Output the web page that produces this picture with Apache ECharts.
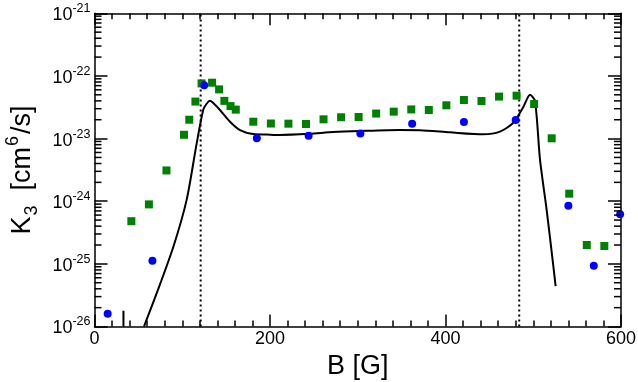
<!DOCTYPE html>
<html>
<head>
<meta charset="utf-8">
<script src="https://cdn.jsdelivr.net/npm/echarts@6/dist/echarts.min.js"></script>
<style>
html,body{margin:0;padding:0;background:#fff;}
#c{width:638px;height:382px;}
</style>
</head>
<body>
<div id="c"></div>
<script>
// ---- data ----
const greenB = [42, 62, 82, 102, 108, 115, 122, 134, 142, 148, 155, 161, 181, 201, 221, 241, 261, 281, 301, 321, 341, 361, 381, 401, 421, 441, 461, 481, 501, 521, 541, 561, 581];
const greenK = [4.8e-25, 8.9e-25, 3.1e-24, 1.15e-23, 2.0e-23, 3.9e-23, 7.6e-23, 7.8e-23, 6.1e-23, 4.0e-23, 3.3e-23, 2.9e-23, 1.86e-23, 1.74e-23, 1.73e-23, 1.71e-23, 2.03e-23, 2.19e-23, 2.21e-23, 2.51e-23, 2.69e-23, 2.92e-23, 2.86e-23, 3.4e-23, 4.13e-23, 3.98e-23, 4.68e-23, 4.84e-23, 3.56e-23, 1.01e-23, 1.32e-24, 2.0e-25, 1.93e-25];

const blueB = [15, 66, 125, 185, 244, 303, 362, 421, 480, 540, 569, 599];
const blueK = [1.6e-26, 1.12e-25, 7.1e-23, 1.01e-23, 1.11e-23, 1.2e-23, 1.73e-23, 1.84e-23, 1.98e-23, 8.5e-25, 9.3e-26, 6.2e-25];

const curveB = [56.4, 70.9, 89.8, 105, 116.4, 124, 127.8, 131.6, 137, 143, 154.4, 165.8, 181, 196, 211, 245, 272, 303, 348, 371, 405, 443, 462, 477.3, 488.7, 496.3, 502, 507.7, 515.3, 522.1, 525.5];
const curveK = [1.0e-26, 3.4e-26, 1.86e-25, 1.05e-24, 8.3e-24, 2.9e-23, 3.6e-23, 4.0e-23, 3.5e-23, 2.86e-23, 1.86e-23, 1.37e-23, 1.18e-23, 1.16e-23, 1.14e-23, 1.19e-23, 1.27e-23, 1.32e-23, 1.37e-23, 1.36e-23, 1.26e-23, 1.17e-23, 1.29e-23, 1.79e-23, 3.2e-23, 5.0e-23, 4.0e-23, 4.6e-24, 7.2e-25, 1.15e-25, 4.4e-26];

const stubB = [33, 33];
const stubK = [1.0e-26, 1.78e-26];

const dottedB = [121, 484];

const xTicks = [0, 200, 400, 600];
const yDecades = [-26, -25, -24, -23, -22, -21];   // K axis decades (log10)
const minorMantissas = [2, 3, 4, 5, 6, 7, 8, 9];

// ---- build (y plotted as log10 K on a value axis) ----
const FONT = 'Liberation Sans, Arial, Helvetica, sans-serif';
const lg = v => Math.log10(v);
const zipLog = (a, b) => a.map((v, i) => [v, lg(b[i])]);
const yLo = yDecades[0];
const yHi = yDecades[yDecades.length - 1];

const minorVals = [];
for (let i = 0; i < yDecades.length - 1; i++) {
  minorMantissas.forEach(m => minorVals.push([xTicks[0], yDecades[i] + lg(m)]));
}

function xAxisDef(pos, labels) {
  return {
    type: 'value', position: pos, min: xTicks[0], max: xTicks[xTicks.length - 1], interval: 200,
    axisLine: {show: true, onZero: false, lineStyle: {color: '#000', width: 1.5}},
    axisTick: {show: true, inside: true, length: 12, lineStyle: {color: '#000', width: 1.5}},
    minorTick: {show: true, splitNumber: 10, length: 6, lineStyle: {color: '#000', width: 1.5}},
    splitLine: {show: false}, minorSplitLine: {show: false},
    axisLabel: {show: labels, margin: 4, fontSize: 18, color: '#000', fontFamily: FONT}
  };
}
function yAxisDef(pos, labels) {
  return {
    type: 'value', position: pos, min: yLo, max: yHi, interval: 1,
    axisLine: {show: true, onZero: false, lineStyle: {color: '#000', width: 1.5}},
    axisTick: {show: true, inside: true, length: 13, lineStyle: {color: '#000', width: 1.5}},
    splitLine: {show: false},
    axisLabel: {
      show: labels, margin: 4, color: '#000', fontFamily: FONT,
      formatter: function (v) { return '{b|10}{s|' + Math.round(v) + '}'; },
      rich: {
        b: {fontSize: 18, fontFamily: FONT, color: '#000', verticalAlign: 'bottom'},
        s: {fontSize: 12.5, fontFamily: FONT, color: '#000', verticalAlign: 'bottom', padding: [0, 0, 9, 0]}
      }
    }
  };
}

const xB = xAxisDef('bottom', true);
xB.name = 'B [G]';
xB.nameLocation = 'middle';
xB.nameGap = 25;
xB.nameTextStyle = {fontSize: 27, color: '#000', fontFamily: FONT, verticalAlign: 'top'};

const yL = yAxisDef('left', true);
yL.name = '{n|K}{sb|3}{n|  [cm}{sp|6}{n|/s]}';
yL.nameLocation = 'middle';
yL.nameRotate = 90;
yL.nameGap = 55;
yL.nameTextStyle = {
  color: '#000', fontFamily: FONT, padding: [0, 0, 0, 0],
  rich: {
    n: {fontSize: 27, fontFamily: FONT, color: '#000', verticalAlign: 'bottom'},
    sb: {fontSize: 18, fontFamily: FONT, color: '#000', verticalAlign: 'bottom', padding: [0, 0, -5, 1]},
    sp: {fontSize: 18, fontFamily: FONT, color: '#000', verticalAlign: 'bottom', padding: [0, 2, 14, 1]}
  }
};

const chart = echarts.init(document.getElementById('c'), null, {renderer: 'canvas', width: 638, height: 382});
chart.setOption({
  animation: false,
  backgroundColor: '#fff',
  textStyle: {fontFamily: FONT},
  grid: {left: 94.5, right: 17, top: 13.3, bottom: 55.5, containLabel: false, outerBoundsMode: 'none'},
  xAxis: [xB, xAxisDef('top', false)],
  yAxis: [yL, yAxisDef('right', false)],
  series: [
    {
      type: 'custom', name: 'yMinorTicks', xAxisIndex: 0, yAxisIndex: 0, silent: true, z: 10,
      clip: false,
      data: minorVals,
      encode: {x: 0, y: 1},
      renderItem: function (params, api) {
        const v = api.value(1);
        const pL = api.coord([xTicks[0], v]);
        const pR = api.coord([xTicks[xTicks.length - 1], v]);
        return {
          type: 'group',
          children: [
            {type: 'line', shape: {x1: pL[0], y1: pL[1], x2: pL[0] + 7, y2: pL[1]}, style: {stroke: '#000', lineWidth: 1.5, fill: null}},
            {type: 'line', shape: {x1: pR[0], y1: pR[1], x2: pR[0] - 7, y2: pR[1]}, style: {stroke: '#000', lineWidth: 1.5, fill: null}}
          ]
        };
      }
    },
    {
      type: 'line', name: 'dot1', silent: true, symbol: 'none', z: 2,
      data: [[dottedB[0], yLo], [dottedB[0], yHi]],
      lineStyle: {color: '#000', width: 2, type: [2, 3]}
    },
    {
      type: 'line', name: 'dot2', silent: true, symbol: 'none', z: 2,
      data: [[dottedB[1], yLo], [dottedB[1], yHi]],
      lineStyle: {color: '#000', width: 2, type: [2, 3]}
    },
    {
      type: 'line', name: 'stub', silent: true, symbol: 'none', z: 3,
      data: zipLog(stubB, stubK),
      lineStyle: {color: '#000', width: 2}
    },
    {
      type: 'line', name: 'theory', silent: true, symbol: 'none', z: 3,
      smooth: 0.25,
      data: zipLog(curveB, curveK),
      lineStyle: {color: '#000', width: 2}
    },
    {
      type: 'scatter', name: 'green', silent: true, z: 4,
      symbol: 'rect', symbolSize: 8,
      data: zipLog(greenB, greenK),
      itemStyle: {color: '#008000', opacity: 1}
    },
    {
      type: 'scatter', name: 'blue', silent: true, z: 5,
      symbol: 'circle', symbolSize: 8,
      data: zipLog(blueB, blueK),
      itemStyle: {color: '#0000ff', opacity: 1}
    }
  ]
});
</script>
</body>
</html>
